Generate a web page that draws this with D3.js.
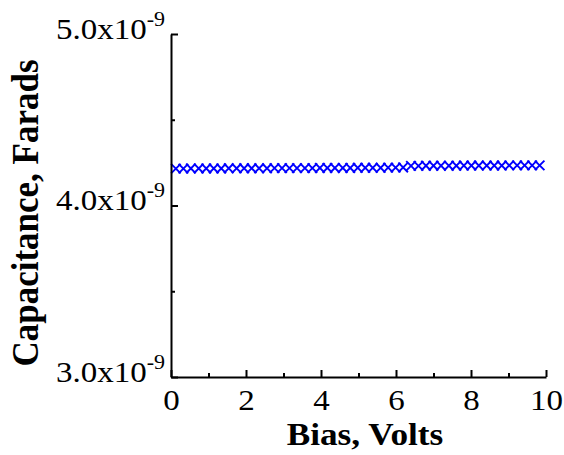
<!DOCTYPE html>
<html>
<head>
<meta charset="utf-8">
<script src="https://cdn.jsdelivr.net/npm/d3@7"></script>
<style>
  html, body { margin: 0; padding: 0; background: #fff; }
  svg { display: block; }
</style>
</head>
<body>
<svg id="chart" width="564" height="455"></svg>
<script>
// Bias sweep (volts) and measured capacitance (farads)
const biasVolts = [
  0.13, 0.33, 0.53, 0.74, 0.94, 1.14, 1.34, 1.54, 1.75, 1.95,
  2.15, 2.35, 2.56, 2.76, 2.96, 3.16, 3.36, 3.57, 3.77, 3.97,
  4.17, 4.37, 4.58, 4.78, 4.98, 5.18, 5.38, 5.59, 5.79, 5.99,
  6.19, 6.40, 6.60, 6.80, 7.00, 7.20, 7.41, 7.61, 7.81, 8.01,
  8.21, 8.42, 8.62, 8.82, 9.02, 9.23, 9.43, 9.63, 9.83
];
const capacitance = [
  4.215e-9, 4.215e-9, 4.216e-9, 4.216e-9, 4.216e-9, 4.216e-9, 4.216e-9, 4.217e-9, 4.217e-9, 4.217e-9,
  4.217e-9, 4.217e-9, 4.217e-9, 4.218e-9, 4.218e-9, 4.218e-9, 4.218e-9, 4.218e-9, 4.218e-9, 4.219e-9,
  4.219e-9, 4.219e-9, 4.219e-9, 4.219e-9, 4.220e-9, 4.220e-9, 4.220e-9, 4.220e-9, 4.221e-9, 4.221e-9,
  4.222e-9, 4.231e-9, 4.231e-9, 4.232e-9, 4.232e-9, 4.232e-9, 4.232e-9, 4.232e-9, 4.233e-9, 4.233e-9,
  4.233e-9, 4.233e-9, 4.233e-9, 4.233e-9, 4.234e-9, 4.234e-9, 4.234e-9, 4.234e-9, 4.234e-9
];

// Axis ticks and labels
const xTicks = [0, 2, 4, 6, 8, 10];
const xMinorTicks = [1, 3, 5, 7, 9];
const yTicks = [3.0e-9, 4.0e-9, 5.0e-9];
const yMinorTicks = [3.5e-9, 4.5e-9];
const yTickMantissa = ["3.0x10", "4.0x10", "5.0x10"];
const yTickExponent = "-9";
const xTitle = "Bias, Volts";
const yTitle = "Capacitance, Farads";

const svg = d3.select("#chart");
const serif = "'Liberation Serif', 'Times New Roman', serif";
const stretch = 1.1;

const x = d3.scaleLinear().domain([0, 10]).range([171, 546]);
const y = d3.scaleLinear().domain([3.0e-9, 5.0e-9]).range([377, 34]);

// Data markers: X crosses
const markerHalf = 4.8;
const markers = svg.append("g")
  .attr("fill", "none")
  .attr("stroke", "#0000ff")
  .attr("stroke-width", 1.9);
markers.selectAll("path")
  .data(biasVolts.map((v, i) => [v, capacitance[i]]))
  .join("path")
  .attr("d", d => {
    const cx = x(d[0]), cy = y(d[1]), h = markerHalf;
    return `M${cx - h},${cy - h}L${cx + h},${cy + h}M${cx - h},${cy + h}L${cx + h},${cy - h}`;
  });

// Left axis: major ticks pointing inward
const yAxis = svg.append("g")
  .attr("transform", `translate(${x(0)},0)`)
  .call(d3.axisLeft(y).tickValues(yTicks).tickSizeInner(-7).tickSizeOuter(0).tickFormat(""));
svg.append("g")
  .attr("transform", `translate(${x(0)},0)`)
  .call(d3.axisLeft(y).tickValues(yMinorTicks).tickSizeInner(-4).tickSizeOuter(0).tickFormat(""))
  .call(g => g.select(".domain").remove());

// Bottom axis
const xAxis = svg.append("g")
  .attr("transform", `translate(0,${y(3.0e-9)})`)
  .call(d3.axisBottom(x).tickValues(xTicks).tickSizeInner(-7).tickSizeOuter(0).tickFormat(d3.format("d")));
svg.append("g")
  .attr("transform", `translate(0,${y(3.0e-9)})`)
  .call(d3.axisBottom(x).tickValues(xMinorTicks).tickSizeInner(-4).tickSizeOuter(0).tickFormat(""))
  .call(g => g.select(".domain").remove());

svg.selectAll(".domain").attr("stroke", "#000").attr("stroke-width", 2);
svg.selectAll(".tick line").attr("stroke", "#000").attr("stroke-width", 2);

// X tick labels
xAxis.selectAll(".tick text")
  .attr("y", 0).attr("dy", null)
  .attr("transform", `translate(0,33) scale(${stretch},1)`)
  .attr("font-family", serif).attr("font-size", 30).attr("fill", "#000");

// Y tick labels in scientific notation
yAxis.selectAll(".tick").each(function(d, i) {
  const t = d3.select(this).append("text")
    .attr("transform", `translate(-6,4) scale(${stretch},1)`)
    .attr("text-anchor", "end")
    .attr("font-family", serif)
    .attr("font-size", 30)
    .attr("fill", "#000");
  t.append("tspan").text(yTickMantissa[i]);
  t.append("tspan").attr("dy", -13).attr("font-size", 20).text(yTickExponent);
});

// Axis titles
svg.append("text")
  .attr("transform", `translate(365,445) scale(${stretch},1)`)
  .attr("text-anchor", "middle")
  .attr("font-family", serif).attr("font-weight", "bold").attr("font-size", 32)
  .text(xTitle);

svg.append("text")
  .attr("transform", `translate(38,213) scale(${stretch},1) rotate(-90)`)
  .attr("text-anchor", "middle")
  .attr("font-family", serif).attr("font-weight", "bold").attr("font-size", 35)
  .text(yTitle);
</script>
</body>
</html>
